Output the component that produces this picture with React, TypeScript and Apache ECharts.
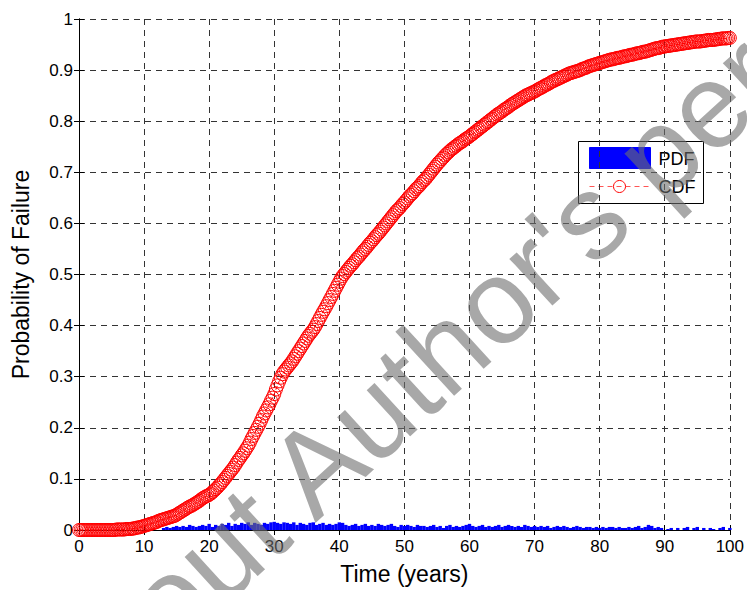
import React, { useEffect, useRef } from "react";
import * as echarts from "echarts";

// time grids (years)
const CDF_STEP = 0.25;
const PDF_STEP = 0.5;

// CDF, t = 0, 0.25, ..., 100 (one row = one year)
const cdfValues = [
  0, 0, 0, 0,
  0, 0, 0, 0,
  0, 0, 0, 0,
  0, 0, 0, 0,
  0, 0, 0, 0,
  0, 0, 0, 0.001,
  0.001, 0.001, 0.001, 0.001,
  0.001, 0.002, 0.002, 0.002,
  0.002, 0.003, 0.003, 0.004,
  0.005, 0.005, 0.006, 0.007,
  0.008, 0.009, 0.010, 0.011,
  0.012, 0.013, 0.014, 0.015,
  0.016, 0.018, 0.019, 0.020,
  0.021, 0.022, 0.023, 0.024,
  0.025, 0.026, 0.027, 0.028,
  0.030, 0.032, 0.034, 0.036,
  0.038, 0.040, 0.042, 0.044,
  0.046, 0.047, 0.049, 0.051,
  0.053, 0.055, 0.057, 0.060,
  0.062, 0.064, 0.066, 0.067,
  0.069, 0.071, 0.074, 0.077,
  0.080, 0.083, 0.087, 0.090,
  0.094, 0.098, 0.102, 0.106,
  0.110, 0.114, 0.118, 0.122,
  0.127, 0.132, 0.137, 0.141,
  0.146, 0.150, 0.155, 0.160,
  0.165, 0.171, 0.178, 0.184,
  0.190, 0.196, 0.202, 0.208,
  0.215, 0.222, 0.228, 0.234,
  0.240, 0.246, 0.253, 0.259,
  0.266, 0.275, 0.283, 0.291,
  0.298, 0.305, 0.310, 0.314,
  0.318, 0.322, 0.326, 0.330,
  0.335, 0.340, 0.345, 0.350,
  0.355, 0.360, 0.365, 0.370,
  0.375, 0.380, 0.384, 0.388,
  0.392, 0.397, 0.403, 0.409,
  0.415, 0.421, 0.427, 0.432,
  0.438, 0.444, 0.450, 0.456,
  0.462, 0.468, 0.474, 0.480,
  0.486, 0.492, 0.497, 0.501,
  0.505, 0.509, 0.513, 0.517,
  0.520, 0.524, 0.528, 0.532,
  0.535, 0.539, 0.543, 0.547,
  0.550, 0.554, 0.558, 0.562,
  0.565, 0.569, 0.573, 0.577,
  0.580, 0.584, 0.588, 0.592,
  0.596, 0.600, 0.604, 0.608,
  0.612, 0.616, 0.620, 0.624,
  0.627, 0.630, 0.634, 0.638,
  0.641, 0.645, 0.649, 0.653,
  0.656, 0.659, 0.663, 0.667,
  0.670, 0.673, 0.677, 0.681,
  0.684, 0.687, 0.691, 0.695,
  0.699, 0.703, 0.707, 0.711,
  0.715, 0.719, 0.722, 0.726,
  0.729, 0.733, 0.736, 0.739,
  0.742, 0.745, 0.747, 0.750,
  0.752, 0.755, 0.757, 0.759,
  0.761, 0.764, 0.766, 0.768,
  0.770, 0.773, 0.775, 0.778,
  0.780, 0.783, 0.785, 0.788,
  0.790, 0.793, 0.795, 0.798,
  0.800, 0.803, 0.805, 0.808,
  0.810, 0.813, 0.815, 0.817,
  0.819, 0.822, 0.824, 0.826,
  0.828, 0.831, 0.833, 0.835,
  0.837, 0.839, 0.841, 0.843,
  0.845, 0.847, 0.849, 0.851,
  0.852, 0.854, 0.855, 0.857,
  0.858, 0.860, 0.862, 0.864,
  0.865, 0.867, 0.869, 0.871,
  0.872, 0.874, 0.876, 0.878,
  0.879, 0.881, 0.882, 0.884,
  0.885, 0.887, 0.888, 0.890,
  0.891, 0.893, 0.894, 0.895,
  0.896, 0.897, 0.898, 0.899,
  0.900, 0.902, 0.903, 0.904,
  0.905, 0.907, 0.908, 0.909,
  0.910, 0.911, 0.912, 0.913,
  0.914, 0.915, 0.916, 0.917,
  0.918, 0.919, 0.920, 0.921,
  0.921, 0.922, 0.923, 0.924,
  0.924, 0.925, 0.926, 0.927,
  0.927, 0.928, 0.929, 0.930,
  0.930, 0.931, 0.932, 0.933,
  0.933, 0.934, 0.935, 0.936,
  0.936, 0.937, 0.938, 0.939,
  0.940, 0.941, 0.942, 0.943,
  0.943, 0.944, 0.945, 0.946,
  0.946, 0.947, 0.947, 0.948,
  0.948, 0.949, 0.949, 0.950,
  0.950, 0.951, 0.951, 0.952,
  0.952, 0.953, 0.953, 0.954,
  0.954, 0.955, 0.955, 0.956,
  0.956, 0.956, 0.956, 0.957,
  0.957, 0.958, 0.958, 0.959,
  0.959, 0.959, 0.959, 0.960,
  0.960, 0.961, 0.961, 0.962,
  0.962, 0.962, 0.962, 0.963,
  0.963,
];

// PDF histogram heights, t = 0, 0.5, ..., 100
const pdfValues = [
  0, 0, 0, 0, 0, 0, 0, 0, 0, 0,
  0, 0, 0, 0, 0, 0, 0, 0, 0, 0,
  0, 0, 0, 0, 0, 0, 0.004, 0.006, 0.004, 0.006,
  0.008, 0.006, 0.008, 0.006, 0.010, 0.008, 0.006, 0.008, 0.010, 0.008,
  0.012, 0.006, 0.010, 0.008, 0.012, 0.010, 0.014, 0.008, 0.012, 0.010,
  0.014, 0.012, 0.015, 0.010, 0.014, 0.012, 0.010, 0.014, 0.012, 0.015,
  0.016, 0.014, 0.012, 0.015, 0.014, 0.012, 0.015, 0.010, 0.014, 0.012,
  0.010, 0.014, 0.015, 0.010, 0.012, 0.014, 0.010, 0.012, 0.010, 0.012,
  0.015, 0.014, 0.010, 0.008, 0.010, 0.012, 0.008, 0.010, 0.012, 0.008,
  0.010, 0.008, 0.012, 0.010, 0.008, 0.010, 0.012, 0.008, 0.006, 0.010,
  0.008, 0.010, 0.008, 0.006, 0.010, 0.008, 0.008, 0.006, 0.008, 0.010,
  0.006, 0.008, 0.004, 0.008, 0.010, 0.006, 0.008, 0.006, 0.008, 0.010,
  0.012, 0.008, 0.006, 0.008, 0.010, 0.006, 0.008, 0.006, 0.008, 0.010,
  0.006, 0.008, 0.010, 0.008, 0.006, 0.008, 0.006, 0.010, 0.008, 0.006,
  0.008, 0.006, 0.008, 0.006, 0.008, 0.004, 0.006, 0.008, 0.006, 0.008,
  0.006, 0.004, 0.006, 0.008, 0.006, 0.004, 0.006, 0.006, 0.004, 0.006,
  0.004, 0.006, 0.004, 0.006, 0.006, 0.004, 0.006, 0.004, 0.004, 0.006,
  0.004, 0.006, 0.008, 0.004, 0.006, 0.010, 0.008, 0.004, 0.006, 0.004,
  0, 0.002, 0.004, 0, 0.004, 0, 0.004, 0.006, 0, 0.004,
  0.006, 0, 0.004, 0, 0.004, 0.002, 0, 0.004, 0.006, 0,
  0.004,
];

const xTicks = [0, 100, 10]; // min, max, interval
const yTicks = [0, 1, 0.1];

const xTitle = "Time (years)";
const yTitle = "Probability of Failure";
const legendLabels = ["PDF", "CDF"];
const watermark = "Without Author's permission";

const FONT = "'Liberation Sans', Arial, Helvetica, sans-serif";

export default function App() {
  const ref = useRef<HTMLDivElement>(null);

  useEffect(() => {
    if (!ref.current) return;
    const chart = echarts.init(ref.current, null, { renderer: "svg" });

    const cdfData = cdfValues.map((v, i) => [i * CDF_STEP, v]);
    const pdfData = pdfValues.map((v, i) => [i * PDF_STEP, v]);

    const gridLine = {
      show: true,
      lineStyle: { color: "#333", width: 1, type: [6, 5] as any },
    };

    const option: any = {
      animation: false,
      backgroundColor: "#fff",
      grid: { left: 79, right: 16, top: 19, bottom: 58, containLabel: false },
      xAxis: [
        {
          type: "value",
          min: xTicks[0],
          max: xTicks[1],
          interval: xTicks[2],
          position: "bottom",
          name: xTitle,
          nameLocation: "middle",
          nameGap: 32,
          nameTextStyle: { color: "#000", fontSize: 23, fontFamily: FONT },
          axisLine: { show: true, lineStyle: { color: "#000", width: 1 } },
          axisTick: { show: true, inside: true, length: 5, lineStyle: { color: "#000" } },
          axisLabel: { color: "#000", fontSize: 17, fontFamily: FONT, margin: 8 },
          splitLine: gridLine,
        },
        {
          type: "value",
          min: xTicks[0],
          max: xTicks[1],
          interval: xTicks[2],
          position: "top",
          axisLine: { show: true, lineStyle: { color: "#000", width: 1 } },
          axisTick: { show: true, inside: true, length: 5, lineStyle: { color: "#000" } },
          axisLabel: { show: false },
          splitLine: { show: false },
        },
      ],
      yAxis: [
        {
          type: "value",
          min: yTicks[0],
          max: yTicks[1],
          interval: yTicks[2],
          position: "left",
          name: yTitle,
          nameLocation: "middle",
          nameGap: 47,
          nameTextStyle: { color: "#000", fontSize: 23, fontFamily: FONT },
          axisLine: { show: true, lineStyle: { color: "#000", width: 1 } },
          axisTick: { show: true, inside: true, length: 5, lineStyle: { color: "#000" } },
          axisLabel: { color: "#000", fontSize: 17, fontFamily: FONT, margin: 6 },
          splitLine: gridLine,
        },
        {
          type: "value",
          min: yTicks[0],
          max: yTicks[1],
          interval: yTicks[2],
          position: "right",
          axisLine: { show: true, lineStyle: { color: "#000", width: 1 } },
          axisTick: { show: true, inside: true, length: 5, lineStyle: { color: "#000" } },
          axisLabel: { show: false },
          splitLine: { show: false },
        },
      ],
      series: [
        {
          name: legendLabels[0],
          type: "bar",
          xAxisIndex: 0,
          yAxisIndex: 0,
          data: pdfData,
          barWidth: 3.4,
          itemStyle: { color: "#0000ff" },
          z: 2,
        },
        {
          name: legendLabels[1],
          type: "line",
          xAxisIndex: 0,
          yAxisIndex: 0,
          data: cdfData,
          symbol: "circle",
          symbolSize: 13,
          showSymbol: true,
          showAllSymbol: true,
          clip: false,
          lineStyle: { color: "#ff0000", width: 1, type: "dashed" },
          itemStyle: { color: "rgba(0,0,0,0)", borderColor: "#ff0000", borderWidth: 1 },
          z: 3,
        },
      ],
      graphic: [
        {
          type: "group",
          left: 578,
          top: 141,
          z: 50,
          children: [
            {
              type: "rect",
              shape: { x: 0, y: 0, width: 125, height: 62 },
              style: { fill: "#fff", stroke: "#000", lineWidth: 1 },
            },
            {
              type: "rect",
              shape: { x: 11, y: 6, width: 61, height: 21 },
              style: { fill: "#0000ff", stroke: "#0000ff", lineWidth: 1 },
            },
            {
              type: "text",
              x: 80,
              y: 17,
              style: {
                text: legendLabels[0],
                fontSize: 18,
                fontFamily: FONT,
                fill: "#000",
                align: "left",
                verticalAlign: "middle",
              },
            },
            {
              type: "line",
              shape: { x1: 11, y1: 45, x2: 72, y2: 45 },
              style: { stroke: "#ff5555", lineWidth: 1, lineDash: [5, 4] },
            },
            {
              type: "circle",
              shape: { cx: 41, cy: 45, r: 6 },
              style: { fill: "none", stroke: "#ff0000", lineWidth: 1 },
            },
            {
              type: "text",
              x: 80,
              y: 45,
              style: {
                text: legendLabels[1],
                fontSize: 18,
                fontFamily: FONT,
                fill: "#000",
                align: "left",
                verticalAlign: "middle",
              },
            },
          ],
        },
        {
          type: "text",
          x: 514,
          y: 284,
          rotation: (42.5 * Math.PI) / 180,
          z: 100,
          silent: true,
          style: {
            text: watermark,
            fontSize: 120,
            fontFamily: FONT,
            fill: "rgba(110,110,110,0.6)",
            align: "center",
            verticalAlign: "middle",
          },
        },
      ],
    };

    chart.setOption(option);
    return () => chart.dispose();
  }, []);

  return (
    <div
      ref={ref}
      style={{ position: "fixed", left: 0, top: 0, width: 747, height: 590, background: "#fff" }}
    />
  );
}
